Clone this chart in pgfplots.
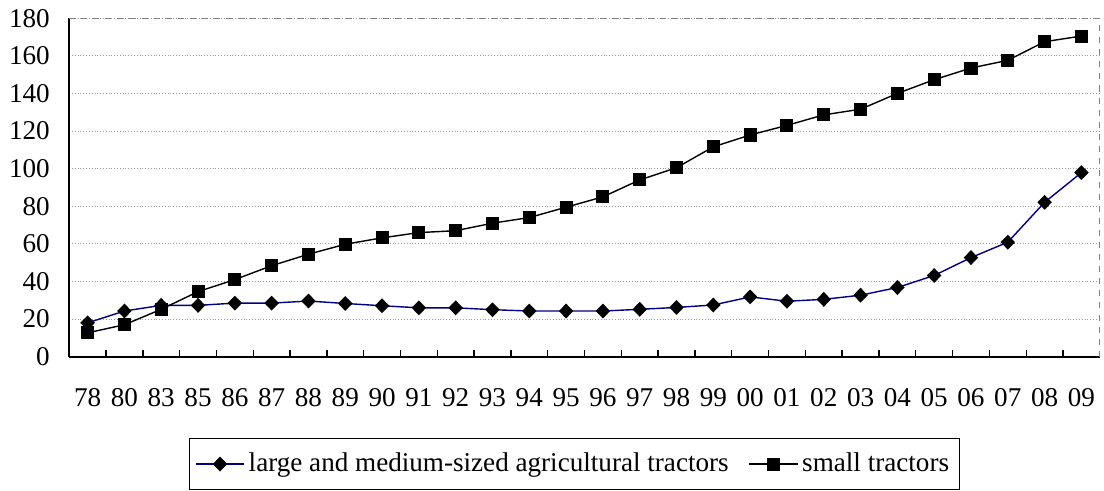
\documentclass[border=0pt]{standalone}
\usepackage{pgfplots}
\pgfplotsset{compat=1.18}
\usepackage{fontspec}
\setmainfont{Liberation Serif}
\definecolor{navyline}{RGB}{0,0,128}
\begin{document}
\fontsize{13.5pt}{16pt}\selectfont
\begin{tikzpicture}
\begin{axis}[
  scale only axis,
  width=513pt, height=168.5pt,
  xmin=-0.5, xmax=27.5,
  ymin=0, ymax=180,
  ytick={0,20,...,180},
  xtick={0,...,27},
  xticklabels={78,80,83,85,86,87,88,89,90,91,92,93,94,95,96,97,98,99,00,01,02,03,04,05,06,07,08,09},
  minor xtick={0.5,1.5,...,26.5},
  major tick length=0pt,
  minor tick length=3.5pt,
  tick align=inside,
  xtick pos=bottom, ytick pos=left,
  axis x line*=bottom, axis y line*=left,
  axis line style={black, line width=0.8pt, -},
  minor tick style={black, line width=0.7pt},
  ymajorgrids,
  grid style={gray!80, densely dotted, line width=0.5pt},
  /pgf/number format/assume math mode=true,
  xticklabel style={yshift=-11pt},
  yticklabel style={xshift=-5pt},
  legend columns=2,
  legend style={at={(0.49,-0.24)}, anchor=north, draw=black, line width=0.6pt,
    font=\fontsize{13.5pt}{16pt}\selectfont,
    /tikz/every even column/.append style={column sep=8pt},
    inner xsep=3pt, inner ysep=5pt},
  legend image code/.code={%
    \draw[mark repeat=2, mark phase=2, line width=0.7pt]
      plot coordinates {(0cm,0cm) (0.42cm,0cm) (0.84cm,0cm)};},
]
\draw[gray, dashed, line width=0.5pt] (rel axis cs:1,0) -- (rel axis cs:1,1);
\draw[gray, dashed, line width=0.5pt] (rel axis cs:0,1) -- (rel axis cs:1,1);
\addplot[navyline, line width=0.7pt, mark=diamond*, mark size=3.2pt,
  mark options={solid, fill=black, draw=black, xscale=1.3}] coordinates {
  (0,18) (1,24.3) (2,27.3) (3,27.3) (4,28.5) (5,28.5) (6,29.6) (7,28.3) (8,27.1)
  (9,26) (10,26) (11,25) (12,24.3) (13,24.3) (14,24.3) (15,25.2) (16,26.2) (17,27.5)
  (18,31.8) (19,29.5) (20,30.5) (21,32.7) (22,36.8) (23,43.2) (24,52.7) (25,60.9)
  (26,82.1) (27,97.9)};
\addlegendentry{large and medium-sized agricultural tractors}
\addplot[black, line width=0.7pt, mark=square*, mark size=2.9pt,
  mark options={solid, fill=black}] coordinates {
  (0,12.7) (1,17) (2,25.2) (3,34.6) (4,41) (5,48.4) (6,54.5) (7,59.8) (8,63.2)
  (9,66) (10,67) (11,71) (12,74) (13,79.5) (14,85) (15,94) (16,100.5) (17,111.6)
  (18,117.9) (19,123) (20,128.6) (21,131.6) (22,140) (23,147.3) (24,153.5) (25,157.6)
  (26,167.5) (27,170.5)};
\addlegendentry{small tractors}
\end{axis}
\end{tikzpicture}
\end{document}
